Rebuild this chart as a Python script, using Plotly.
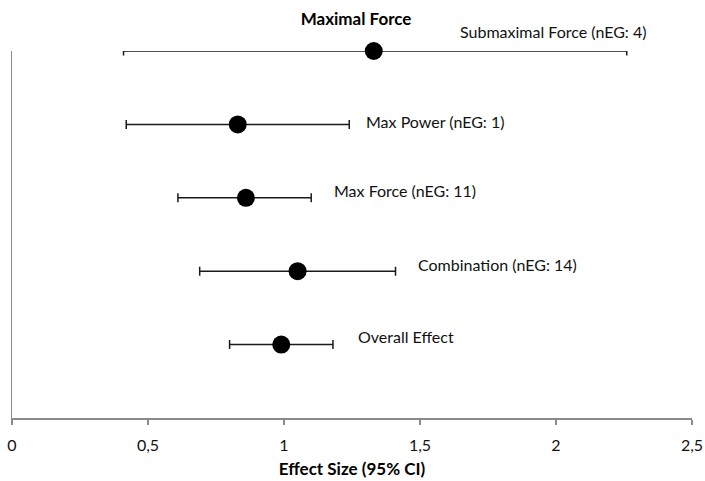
import plotly.graph_objects as go

# Data
groups = ["Submaximal Force (nEG: 4)", "Max Power (nEG: 1)", "Max Force (nEG: 11)",
          "Combination (nEG: 14)", "Overall Effect"]
effect = [1.33, 0.83, 0.86, 1.05, 0.99]
ci_low = [0.41, 0.42, 0.61, 0.69, 0.80]
ci_high = [2.26, 1.24, 1.10, 1.41, 1.18]
rows = [5, 4, 3, 2, 1]
x_ticks = [0, 0.5, 1, 1.5, 2, 2.5]
x_tick_labels = ["0", "0,5", "1", "1,5", "2", "2,5"]

# label offsets (pixels) from each point
label_dx = [84, 126, 86, 118, 75]
label_dy = [20, 3, 7, 7, 8]

err_plus = [h - e for h, e in zip(ci_high, effect)]
err_minus = [e - l for e, l in zip(effect, ci_low)]

FONT = "Lato, 'Open Sans', sans-serif"

fig = go.Figure()
fig.add_trace(go.Scatter(
    x=effect, y=rows, mode="markers",
    marker=dict(size=18, color="black"),
    error_x=dict(type="data", symmetric=False, array=err_plus, arrayminus=err_minus,
                 color="#1a1a1a", thickness=1.5, width=4.5),
    cliponaxis=False, showlegend=False, hoverinfo="skip",
))

for g, e, r, dx, dy in zip(groups, effect, rows, label_dx, label_dy):
    fig.add_annotation(x=e, y=r, text=g, showarrow=False, xanchor="left", yanchor="middle",
                       xshift=dx, yshift=dy, font=dict(family=FONT, size=16, color="#111"))

fig.update_layout(
    width=705, height=481,
    margin=dict(l=12, r=13, t=51, b=63, autoexpand=False),
    paper_bgcolor="white", plot_bgcolor="white",
    font=dict(family=FONT, size=16, color="#111"),
    title=dict(text="<b>Maximal Force</b>", x=0.505, xanchor="center", y=0.960, yanchor="middle",
               automargin=False,
               font=dict(family=FONT, size=17, color="black")),
    xaxis=dict(range=[0, 2.5], tickvals=x_ticks, ticktext=x_tick_labels,
               showline=True, linecolor="#8a8a8a", linewidth=1.5,
               ticks="outside", ticklen=5, tickcolor="#8a8a8a", tickwidth=1.5,
               ticklabelstandoff=7, automargin=False,
               showgrid=False, zeroline=False,
               tickfont=dict(family=FONT, size=16, color="#111"),
               title=dict(text="<b>Effect Size (95% CI)</b>", standoff=10,
                          font=dict(family=FONT, size=17, color="black"))),
    yaxis=dict(range=[0, 5], showline=True, linecolor="#8a8a8a", linewidth=1.5,
               automargin=False,
               showticklabels=False, ticks="", showgrid=False, zeroline=False),
)

fig.write_html("out.html",
               config={"displayModeBar": False, "staticPlot": True},
               post_script="document.body.style.margin='0';document.body.style.overflow='hidden';")
